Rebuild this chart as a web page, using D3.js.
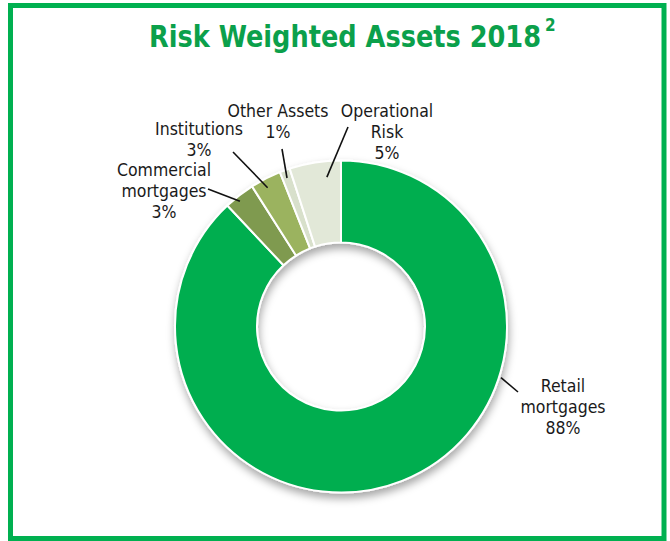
<!DOCTYPE html>
<html>
<head>
<meta charset="utf-8">
<script src="https://cdn.jsdelivr.net/npm/d3@7"></script>
<style>
  body { margin: 0; background: #fff; }
  svg { display: block; }
  .lbl { font-family: "DejaVu Sans Condensed", "DejaVu Sans", sans-serif; font-size: 17.5px; fill: #1a1a1a; }
</style>
</head>
<body>
<div id="chart"></div>
<script>
// data
const categories = ["Retail mortgages", "Commercial mortgages", "Institutions", "Other Assets", "Operational Risk"];
const shares = [88, 3, 3, 1, 5];
const labelLines = [
    ["Retail", "mortgages", "88%"],
    ["Commercial", "mortgages", "3%"],
    ["Institutions", "3%"],
    ["Other Assets", "1%"],
    ["Operational", "Risk", "5%"]
];
const colors = ["#00AE50", "#7F9A4F", "#9BB35E", "#D8E0CB", "#E2E8D8"];

// layout for the callouts (label anchor, line outer end, where along the slice the line lands)
const callouts = [
    { x: 563, y: 392, lx: 518, ly: 392, t: 0.34, r: 168 },
    { x: 164, y: 176, lx: 208, ly: 189, t: 0.40, r: 161 },
    { x: 199, y: 135, lx: 233, ly: 152, t: 0.42, r: 157 },
    { x: 278, y: 117, lx: 282, ly: 149, t: 0.45, r: 158 },
    { x: 387, y: 117, lx: 348, ly: 127, t: 0.70, r: 150 }
];

const W = 670, H = 541;
const cx = 341, cy = 326.5, outerR = 166, innerR = 84;

const svg = d3.select("#chart").append("svg")
    .attr("width", W)
    .attr("height", H);

const defs = svg.append("defs");
const f = defs.append("filter").attr("id", "shadow")
    .attr("x", "-20%").attr("y", "-20%").attr("width", "140%").attr("height", "140%");
f.append("feDropShadow")
    .attr("dx", 1).attr("dy", 5).attr("stdDeviation", 4)
    .attr("flood-color", "#000").attr("flood-opacity", 0.35);

// frame
svg.append("rect")
    .attr("x", 10.5).attr("y", 5.5)
    .attr("width", 653.5).attr("height", 533)
    .attr("fill", "none")
    .attr("stroke", "#00B050")
    .attr("stroke-width", 5);

// title (superscript kept in the same text element)
const title = svg.append("text")
    .attr("x", 149)
    .attr("y", 47)
    .style("font-family", "'DejaVu Sans Condensed', 'DejaVu Sans', sans-serif")
    .style("font-weight", "bold")
    .attr("fill", "#0BA04B");

title.append("tspan")
    .attr("textLength", 392)
    .attr("lengthAdjust", "spacingAndGlyphs")
    .style("font-size", "31px")
    .text("Risk Weighted Assets 2018");

title.append("tspan")
    .attr("dx", 4)
    .attr("dy", -16)
    .style("font-size", "17px")
    .text("2");

const pie = d3.pie().sort(null).value(d => d)(shares);
const arc = d3.arc().innerRadius(innerR).outerRadius(outerR);

const g = svg.append("g").attr("transform", `translate(${cx},${cy})`);

g.append("g")
    .attr("filter", "url(#shadow)")
    .selectAll("path")
    .data(pie)
    .join("path")
    .attr("d", arc)
    .attr("fill", (d, i) => colors[i])
    .attr("stroke", "#fff")
    .attr("stroke-width", 2)
    .attr("stroke-linejoin", "round");

// leader lines
pie.forEach((d, i) => {
    const c = callouts[i];
    const a = d.startAngle + c.t * (d.endAngle - d.startAngle);
    const px = cx + c.r * Math.sin(a);
    const py = cy - c.r * Math.cos(a);
    svg.append("line")
        .attr("x1", c.lx).attr("y1", c.ly)
        .attr("x2", px).attr("y2", py)
        .attr("stroke", "#111")
        .attr("stroke-width", 1.6);
});

// labels
categories.forEach((name, i) => {
    const c = callouts[i];
    const t = svg.append("text")
        .attr("class", "lbl")
        .attr("text-anchor", "middle")
        .attr("x", c.x)
        .attr("y", c.y);
    labelLines[i].forEach((line, k) => {
        t.append("tspan")
            .attr("x", c.x)
            .attr("dy", k === 0 ? 0 : 21)
            .text(line);
    });
});
</script>
</body>
</html>
